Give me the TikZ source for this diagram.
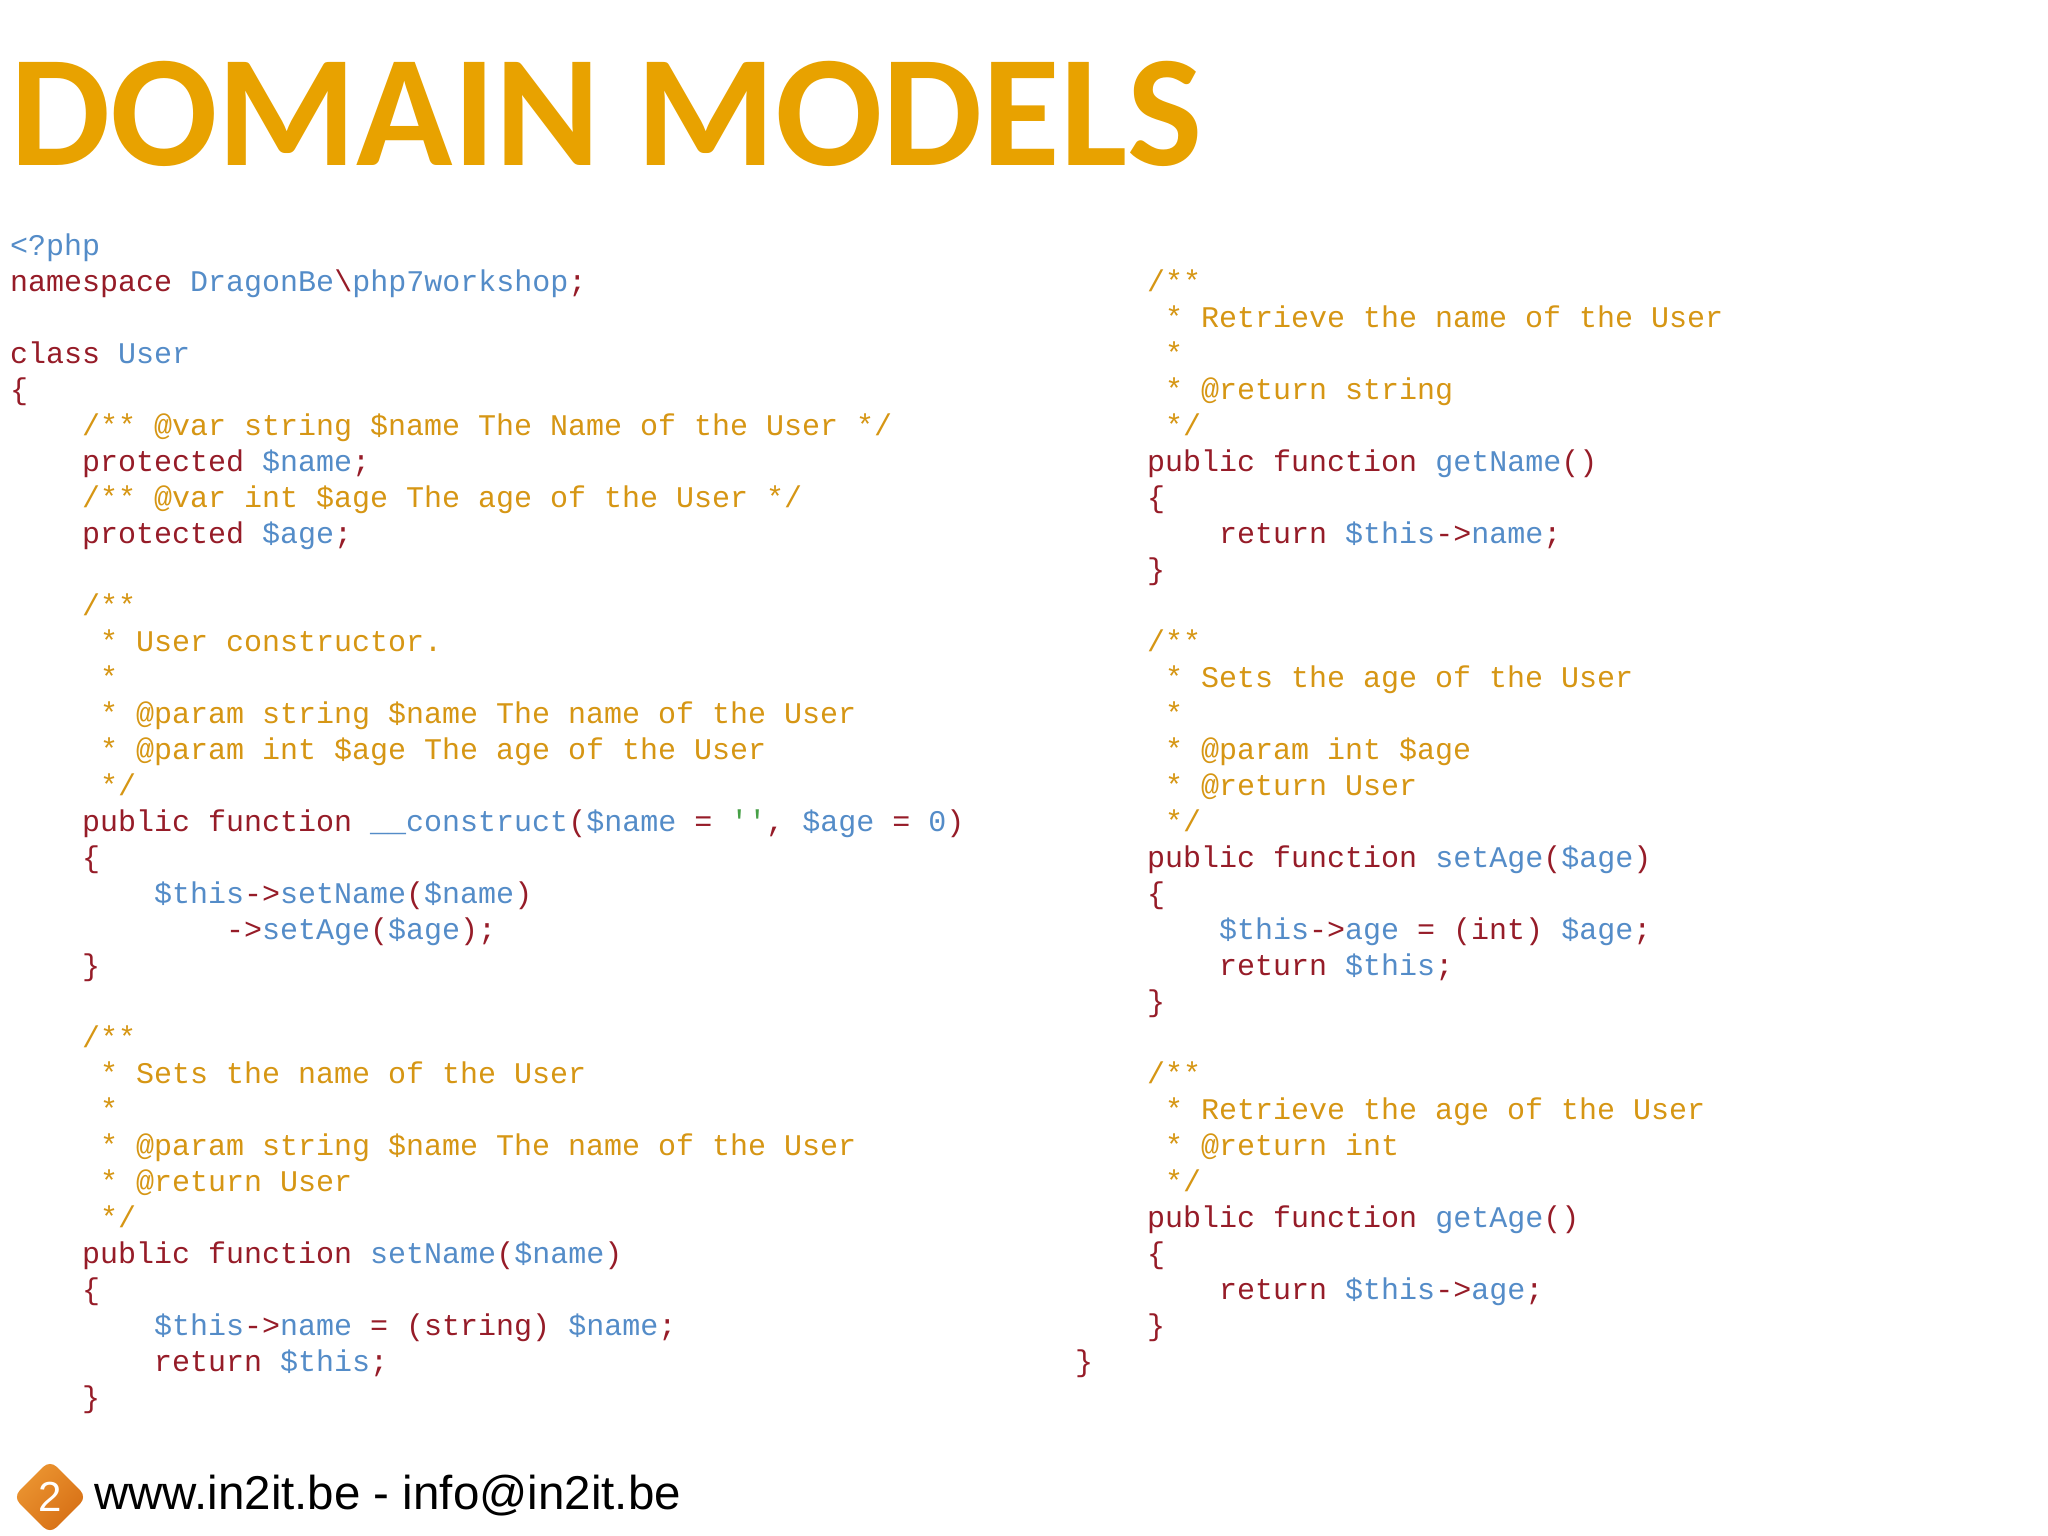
\documentclass[tikz,border=0pt]{standalone}
\usepackage{fontspec}
\newfontfamily\codefont{Liberation Mono}
\newfontfamily\titlefont{Carlito}
\newfontfamily\footfont{Liberation Sans}
\definecolor{kw}{RGB}{150,28,40}
\definecolor{id}{RGB}{84,140,200}
\definecolor{cm}{RGB}{214,150,20}
\definecolor{st}{RGB}{70,160,70}
\definecolor{ttl}{RGB}{232,162,0}
\definecolor{logoA}{RGB}{236,150,50}
\definecolor{logoB}{RGB}{214,110,20}
\newcommand\B[1]{\textcolor{id}{#1}}
\newcommand\C[1]{\textcolor{cm}{#1}}
\newcounter{ln}
\newcommand\Ln[4]{\stepcounter{ln}\node[code] (ln\theln) at ({#1+18*#2},{-(255+36*#3)}) {#4};}
\tikzset{code/.style={anchor=base west,inner sep=0pt,text=kw,font=\codefont\fontsize{30}{36}\selectfont}}
\begin{document}
\begin{tikzpicture}[x=1pt,y=1pt]
\useasboundingbox[fill=white] (0,0) rectangle (2048,-1536);
\node[anchor=base west,inner sep=0pt,text=ttl,font=\titlefont\bfseries\fontsize{159}{159}\selectfont] (title) at (10,-165) {DOMAIN MODELS};
% left column
\Ln{10}{0}{0}{\B{<?php}}
\Ln{10}{0}{1}{namespace \B{DragonBe}\textbackslash\B{php7workshop};}
\Ln{10}{0}{3}{class \B{User}}
\Ln{10}{0}{4}{\{}
\Ln{10}{4}{5}{\C{/** @var string \$name The Name of the User */}}
\Ln{10}{4}{6}{protected \B{\$name};}
\Ln{10}{4}{7}{\C{/** @var int \$age The age of the User */}}
\Ln{10}{4}{8}{protected \B{\$age};}
\Ln{10}{4}{10}{\C{/**}}
\Ln{10}{5}{11}{\C{* User constructor.}}
\Ln{10}{5}{12}{\C{*}}
\Ln{10}{5}{13}{\C{* @param string \$name The name of the User}}
\Ln{10}{5}{14}{\C{* @param int \$age The age of the User}}
\Ln{10}{5}{15}{\C{*/}}
\Ln{10}{4}{16}{public function \B{\_\_construct}(\B{\$name} = \textcolor{st}{''}, \B{\$age} = \B{0})}
\Ln{10}{4}{17}{\{}
\Ln{10}{8}{18}{\B{\$this}->\B{setName}(\B{\$name})}
\Ln{10}{12}{19}{->\B{setAge}(\B{\$age});}
\Ln{10}{4}{20}{\}}
\Ln{10}{4}{22}{\C{/**}}
\Ln{10}{5}{23}{\C{* Sets the name of the User}}
\Ln{10}{5}{24}{\C{*}}
\Ln{10}{5}{25}{\C{* @param string \$name The name of the User}}
\Ln{10}{5}{26}{\C{* @return User}}
\Ln{10}{5}{27}{\C{*/}}
\Ln{10}{4}{28}{public function \B{setName}(\B{\$name})}
\Ln{10}{4}{29}{\{}
\Ln{10}{8}{30}{\B{\$this}->\B{name} = (string) \B{\$name};}
\Ln{10}{8}{31}{return \B{\$this};}
\Ln{10}{4}{32}{\}}
% right column
\Ln{1075}{4}{1}{\C{/**}}
\Ln{1075}{5}{2}{\C{* Retrieve the name of the User}}
\Ln{1075}{5}{3}{\C{*}}
\Ln{1075}{5}{4}{\C{* @return string}}
\Ln{1075}{5}{5}{\C{*/}}
\Ln{1075}{4}{6}{public function \B{getName}()}
\Ln{1075}{4}{7}{\{}
\Ln{1075}{8}{8}{return \B{\$this}->\B{name};}
\Ln{1075}{4}{9}{\}}
\Ln{1075}{4}{11}{\C{/**}}
\Ln{1075}{5}{12}{\C{* Sets the age of the User}}
\Ln{1075}{5}{13}{\C{*}}
\Ln{1075}{5}{14}{\C{* @param int \$age}}
\Ln{1075}{5}{15}{\C{* @return User}}
\Ln{1075}{5}{16}{\C{*/}}
\Ln{1075}{4}{17}{public function \B{setAge}(\B{\$age})}
\Ln{1075}{4}{18}{\{}
\Ln{1075}{8}{19}{\B{\$this}->\B{age} = (int) \B{\$age};}
\Ln{1075}{8}{20}{return \B{\$this};}
\Ln{1075}{4}{21}{\}}
\Ln{1075}{4}{23}{\C{/**}}
\Ln{1075}{5}{24}{\C{* Retrieve the age of the User}}
\Ln{1075}{5}{25}{\C{* @return int}}
\Ln{1075}{5}{26}{\C{*/}}
\Ln{1075}{4}{27}{public function \B{getAge}()}
\Ln{1075}{4}{28}{\{}
\Ln{1075}{8}{29}{return \B{\$this}->\B{age};}
\Ln{1075}{4}{30}{\}}
\Ln{1075}{0}{31}{\}}
% footer
\node[rotate=45,minimum size=52,inner sep=0pt,rounded corners=9,top color=logoA,bottom color=logoB,shading angle=45] (logo) at (50,-1497) {};
\node[text=white,font=\footfont\fontsize{42}{42}\selectfont] (two) at (logo.center) {2};
\node[anchor=west,inner sep=0pt,font=\footfont\fontsize{47.5}{47.5}\selectfont] (foot) at (94,-1496) {www.in2it.be - info@in2it.be};
\end{tikzpicture}
\end{document}
